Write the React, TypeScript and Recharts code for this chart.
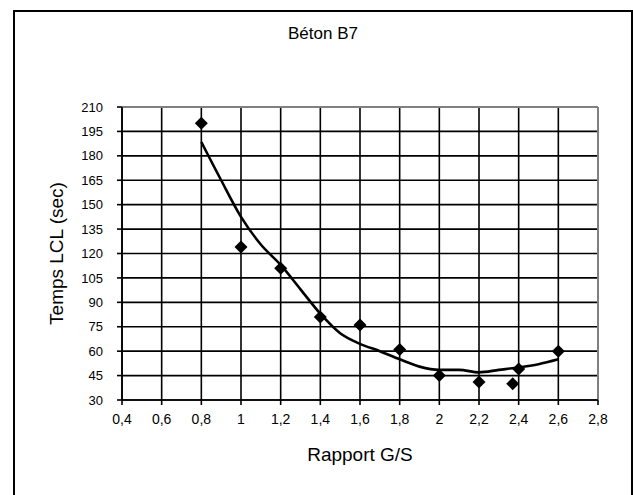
import React from 'react';
import { ComposedChart, Line, Scatter, XAxis, YAxis, CartesianGrid, ReferenceLine } from 'recharts';

const xTicks = [0.4, 0.6, 0.8, 1, 1.2, 1.4, 1.6, 1.8, 2, 2.2, 2.4, 2.6, 2.8];
const yTicks = [30, 45, 60, 75, 90, 105, 120, 135, 150, 165, 180, 195, 210];

const measuredX = [0.8, 1.0, 1.2, 1.4, 1.6, 1.8, 2.0, 2.2, 2.37, 2.4, 2.6];
const measuredY = [200, 124, 111, 81, 76, 61, 45, 41, 40, 49, 60];

const trendX = [0.8, 0.9, 1.0, 1.1, 1.2, 1.3, 1.4, 1.5, 1.6, 1.7, 1.8, 1.9, 2.0, 2.1, 2.2, 2.3, 2.4, 2.5, 2.6];
const trendY = [188.5, 165, 142.5, 125.5, 113, 98, 83, 71, 64.5, 60, 55, 50.5, 48.5, 48.5, 47, 48.5, 50, 52, 55];

const measured = measuredX.map((x, i) => ({ x, y: measuredY[i] }));
const trend = trendX.map((x, i) => ({ x, y: trendY[i] }));

const FONT = '"Liberation Sans", Arial, sans-serif';

const fmt = (v: number) => String(v).replace('.', ',');

const Diamond = (props: any) => {
  const { cx, cy } = props;
  const r = 6.5;
  return <polygon points={`${cx},${cy - r} ${cx + r},${cy} ${cx},${cy + r} ${cx - r},${cy}`} fill="#000" />;
};

export default function App() {
  return (
    <div style={{ position: 'absolute', left: 0, top: 0, width: 633, height: 495, background: '#fff', fontFamily: FONT, overflow: 'hidden' }}>
      <div style={{ position: 'absolute', left: 13, top: 10, width: 620, height: 500, border: '2px solid #000', boxSizing: 'border-box' }} />
      <div style={{ position: 'absolute', left: 0, width: 646, top: 24, textAlign: 'center', fontSize: 17, lineHeight: '20px', color: '#000' }}>Béton B7</div>
      <div style={{ position: 'absolute', left: 0, top: 0 }}>
        <ComposedChart width={633} height={495} margin={{ top: 107, right: 35, bottom: 65, left: 62 }}>
          <CartesianGrid stroke="#000" strokeWidth={1.6} />
          <XAxis
            dataKey="x"
            type="number"
            domain={[0.4, 2.8]}
            ticks={xTicks}
            interval={0}
            allowDataOverflow
            height={30}
            tickFormatter={fmt}
            tickSize={5}
            tickMargin={9}
            stroke="#000"
            strokeWidth={1.6}
            tick={{ fill: '#000', fontSize: 14, fontFamily: FONT }}
            label={{
              content: (p: any) => {
                const vb = p.viewBox;
                return (
                  <text x={vb.x + vb.width / 2} y={vb.y + 54} textAnchor="middle" dominantBaseline="central" fontSize={19} fontFamily={FONT} fill="#000">
                    Rapport G/S
                  </text>
                );
              },
            }}
          />
          <YAxis
            type="number"
            domain={[30, 210]}
            ticks={yTicks}
            interval={0}
            width={60}
            tickSize={5}
            tickMargin={14}
            stroke="#000"
            strokeWidth={1.6}
            tick={{ fill: '#000', fontSize: 13, fontFamily: FONT }}
            label={{
              content: (p: any) => {
                const vb = p.viewBox;
                const cx = vb.x - 6;
                const cy = vb.y + vb.height / 2;
                return (
                  <text x={cx} y={cy} transform={`rotate(-90 ${cx} ${cy})`} textAnchor="middle" dominantBaseline="central" fontSize={19} fontFamily={FONT} fill="#000">
                    Temps LCL (sec)
                  </text>
                );
              },
            }}
          />
          <ReferenceLine y={210} stroke="#808080" strokeWidth={2} />
          <ReferenceLine x={2.8} stroke="#808080" strokeWidth={2} />
          <Line data={trend} dataKey="y" type="monotone" stroke="#000" strokeWidth={2.6} dot={false} isAnimationActive={false} />
          <Scatter data={measured} dataKey="y" shape={<Diamond />} isAnimationActive={false} />
        </ComposedChart>
      </div>
    </div>
  );
}
